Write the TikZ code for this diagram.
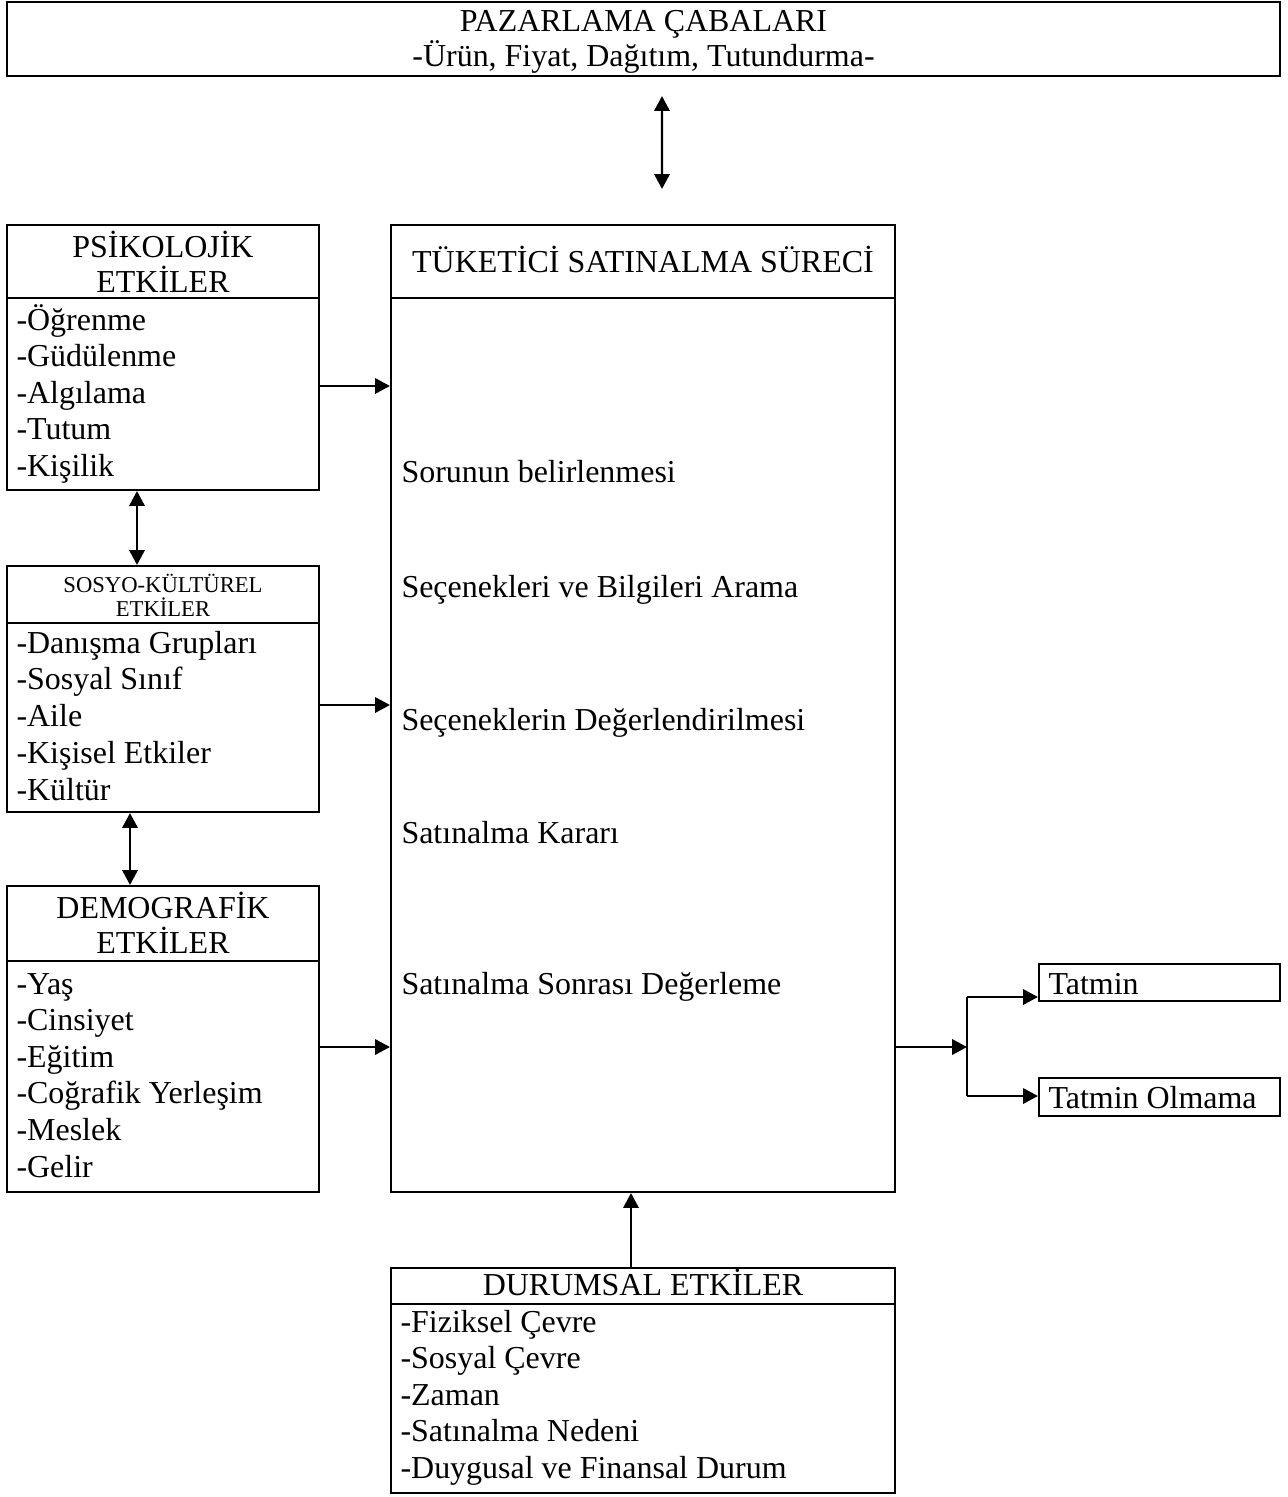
\documentclass[tikz,border=0pt]{standalone}
\usepackage{fontspec}
\setmainfont{Liberation Serif}
\usetikzlibrary{arrows.meta, fit, calc}

\begin{document}
\begin{tikzpicture}[
  x=0.3755pt, y=-0.3755pt,
  every node/.style={font=\fontsize{12}{13.8}\selectfont},
  kutu/.style={draw, line width=0.8pt, inner sep=0pt},
  yazi/.style={anchor=base west, inner sep=0pt},
  baslik/.style={anchor=base, inner sep=0pt},
  cizgi/.style={line width=0.8pt},
  ok/.style={line width=0.8pt, -{Triangle[length=5.6pt, width=5.8pt]}},
  ciftok/.style={line width=0.8pt,
                 {Triangle[length=5.6pt, width=5.8pt]}-{Triangle[length=5.6pt, width=5.8pt]}}
]
  \useasboundingbox (0,0) rectangle (1288,1497);

  %=========================================================
  % 1. Pazarlama cabalari (ust kutu)
  %=========================================================
  \node[kutu, fit={(7,2) (1280,76)}] (paz) {};
  \node[baslik] (paz-1) at (643.5,31) {PAZARLAMA ÇABALARI};
  \node[baslik] (paz-2) at (643.5,66) {-Ürün, Fiyat, Dağıtım, Tutundurma-};

  %=========================================================
  % 2. Tuketici satinalma sureci (orta kutu)
  %=========================================================
  \node[kutu, fit={(391,225) (895,1192)}] (surec) {};
  \draw[cizgi] (surec.west |- 0,298) -- (surec.east |- 0,298);
  \node[baslik] (surec-0) at (643,272) {TÜKETİCİ SATINALMA SÜRECİ};
  \foreach \y/\t [count=\i] in {482/Sorunun belirlenmesi,
                                597/Seçenekleri ve Bilgileri Arama,
                                730/Seçeneklerin Değerlendirilmesi,
                                843/Satınalma Kararı,
                                994/Satınalma Sonrası Değerleme}
    \node[yazi] (surec-\i) at (401,\y) {\t};

  %=========================================================
  % 3. Sol taraf : psikolojik, sosyo-kulturel, demografik
  %=========================================================

  % --- Psikolojik etkiler ---
  \node[kutu, fit={(7,225) (319,490)}] (psi) {};
  \draw[cizgi] (psi.west |- 0,298) -- (psi.east |- 0,298);
  \node[baslik] (psi-a) at (163,257) {PSİKOLOJİK};
  \node[baslik] (psi-b) at (163,292) {ETKİLER};
  \foreach \t [count=\i from 0] in {-Öğrenme, -Güdülenme, -Algılama, -Tutum, -Kişilik}
    \node[yazi] (psi-\i) at (16,330+36.5*\i) {\t};

  % --- Sosyo-kulturel etkiler ---
  \node[kutu, fit={(7,566) (319,812)}] (sos) {};
  \draw[cizgi] (sos.west |- 0,623) -- (sos.east |- 0,623);
  \node[baslik, font=\fontsize{8.5}{9}\selectfont] (sos-a) at (163,592) {SOSYO-KÜLTÜREL};
  \node[baslik, font=\fontsize{8.5}{9}\selectfont] (sos-b) at (163,616) {ETKİLER};
  \foreach \t [count=\i from 0] in {-Danışma Grupları, -Sosyal Sınıf, -Aile,
                                    -Kişisel Etkiler, -Kültür}
    \node[yazi] (sos-\i) at (16,653+36.8*\i) {\t};

  % --- Demografik etkiler ---
  \node[kutu, fit={(7,886) (319,1192)}] (dem) {};
  \draw[cizgi] (dem.west |- 0,961) -- (dem.east |- 0,961);
  \node[baslik] (dem-a) at (163,918) {DEMOGRAFİK};
  \node[baslik] (dem-b) at (163,953) {ETKİLER};
  \foreach \t [count=\i from 0] in {-Yaş, -Cinsiyet, -Eğitim, -Coğrafik Yerleşim,
                                    -Meslek, -Gelir}
    \node[yazi] (dem-\i) at (16,994+36.6*\i) {\t};

  %=========================================================
  % 4. Durumsal etkiler (alt kutu)
  %=========================================================
  \node[kutu, fit={(391,1268) (895,1493)}] (dur) {};
  \draw[cizgi] (dur.west |- 0,1304) -- (dur.east |- 0,1304);
  \node[baslik] (dur-0) at (643,1295) {DURUMSAL ETKİLER};
  \foreach \t [count=\i from 0] in {-Fiziksel Çevre, -Sosyal Çevre, -Zaman,
                                    -Satınalma Nedeni, -Duygusal ve Finansal Durum}
    \node[yazi] (dur-\i) at (400,1332+36.6*\i) {\t};

  %=========================================================
  % 5. Sonuclar : tatmin / tatmin olmama
  %=========================================================
  \node[kutu, fit={(1039,964) (1280,1001)}] (tat) {};
  \node[yazi] (tat-0) at (1048,994) {Tatmin};
  \node[kutu, fit={(1039,1078) (1280,1116)}] (olm) {};
  \node[yazi] (olm-0) at (1048,1108) {Tatmin Olmama};

  %=========================================================
  % 6. Oklar
  %=========================================================
  \draw[ciftok] ($(paz.south)+(18.5,19)$) -- ($(surec.north)+(19,-35)$);
  \draw[ciftok] (psi.south -| 137,0) -- (sos.north -| 137,0);
  \draw[ciftok] (sos.south -| 130,0) -- (dem.north -| 130,0);

  \draw[ok] (psi.east |- 0,386) -- (surec.west |- 0,386);
  \draw[ok] (sos.east |- 0,705) -- (surec.west |- 0,705);
  \draw[ok] (dem.east |- 0,1047) -- (surec.west |- 0,1047);

  \draw[ok] (dur.north -| 631,0) -- (surec.south -| 631,0);

  \coordinate (dal) at (967,1047);
  \draw[ok] (surec.east |- dal) -- (dal);
  \draw[cizgi] (dal |- 0,997) -- (dal |- 0,1096);
  \draw[ok] (dal |- 0,997) -- (tat.west |- 0,997);
  \draw[ok] (dal |- 0,1096) -- (olm.west |- 0,1096);

\end{tikzpicture}
\end{document}
